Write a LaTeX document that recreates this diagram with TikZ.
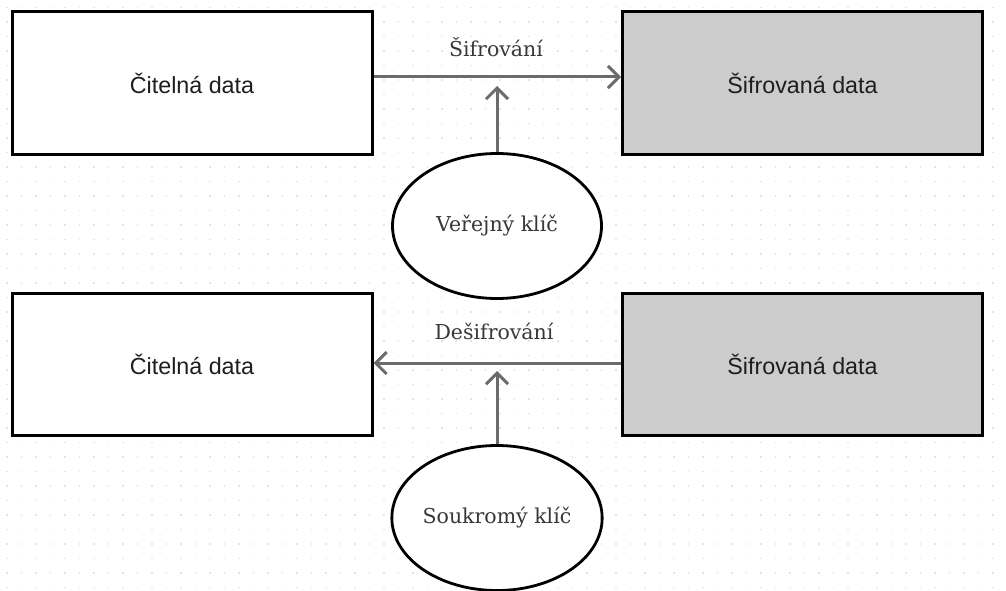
\documentclass[tikz,border=0pt]{standalone}
\usepackage{fontspec}
\setmainfont{DejaVu Serif}
\newfontfamily\sansf{Liberation Sans}
\usetikzlibrary{arrows.meta,shapes.geometric}
\definecolor{arrowgray}{HTML}{6B6B6B}
\definecolor{boxgray}{HTML}{CCCCCC}
\definecolor{txt}{HTML}{1E1E1E}
\definecolor{serift}{HTML}{383838}
\definecolor{dotgray}{HTML}{E4E4E4}
\tikzset{
  databox/.style={draw=black, line width=3pt, fill=white, minimum width=360pt, minimum height=142pt, inner sep=0pt, text=txt, font=\sansf\fontsize{23.3}{27}\selectfont},
  encbox/.style={databox, fill=boxgray},
  keynode/.style={draw=black, line width=2.8pt, fill=white, ellipse, minimum width=209pt, minimum height=145pt, inner sep=0pt, text=serift, font=\fontsize{20.5}{24}\selectfont},
  conn/.style={draw=arrowgray, line width=3pt, -{Straight Barb[length=11pt,width=22pt]}},
  lbl/.style={text=serift, font=\fontsize{20.5}{24}\selectfont, inner sep=0pt}
}
\begin{document}
\begin{tikzpicture}[x=1pt,y=-1pt]
\useasboundingbox (0,0) rectangle (1006,591);
\fill[white] (0,0) rectangle (1006,591);
\foreach \r in {0,...,40}{
  \draw[dotgray, line width=1.6pt, dash pattern=on 1.6pt off 12.9pt] (6,{7.5+14.5*\r}) -- (1006,{7.5+14.5*\r});
}
\node[databox] (p1) at (192,83) {Čitelná data};
\node[encbox] (c1) at (802.5,83) {Šifrovaná data};
\node[databox] (p2) at (192,364) {Čitelná data};
\node[encbox] (c2) at (802.5,364) {Šifrovaná data};
\node[keynode] (k1) at (497,226) {Veřejný klíč};
\node[keynode] (k2) at (497,518) {Soukromý klíč};
\coordinate (y1) at (0,77);
\coordinate (t1) at (0,86);
\coordinate (y2) at (0,363);
\coordinate (t2) at (0,371);
\draw[conn] (p1.east |- y1) -- (c1.west |- y1);
\draw[conn] (k1.north) -- (k1.north |- t1);
\draw[conn] (c2.west |- y2) -- (p2.east |- y2);
\draw[conn] (k2.north) -- (k2.north |- t2);
\node[lbl] (l1) at (496,47) {Šifrování};
\node[lbl] (l2) at (494,331) {Dešifrování};
\end{tikzpicture}
\end{document}
